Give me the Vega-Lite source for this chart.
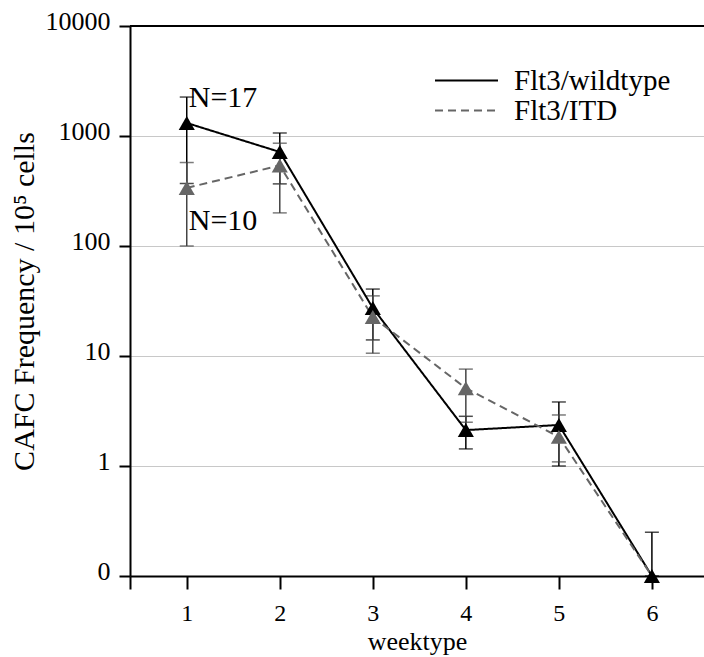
{
  "$schema": "https://vega.github.io/schema/vega-lite/v6.json",
  "width": 574,
  "height": 550,
  "autosize": {"type": "none"},
  "padding": {"left": 130, "top": 26, "right": 0, "bottom": 81},
  "config": {
    "font": "Liberation Serif",
    "view": {"stroke": null},
    "axis": {
      "labelFont": "Liberation Serif",
      "titleFont": "Liberation Serif",
      "labelFontSize": 24,
      "titleFontSize": 26,
      "titleFontWeight": "normal",
      "labelColor": "black",
      "titleColor": "black",
      "domainColor": "black",
      "tickColor": "black",
      "domainWidth": 2,
      "tickWidth": 2,
      "labelFlush": false
    },
    "legend": {
      "labelFont": "Liberation Serif",
      "labelFontSize": 29,
      "labelColor": "black",
      "labelLimit": 0
    }
  },
  "datasets": {
    "series": [
      {"group": "Flt3/wildtype", "week": 1, "mean": 1313, "lo": 370, "hi": 2260},
      {"group": "Flt3/wildtype", "week": 2, "mean": 716, "lo": 367, "hi": 1065},
      {"group": "Flt3/wildtype", "week": 3, "mean": 27.3, "lo": 14.0, "hi": 40.6},
      {"group": "Flt3/wildtype", "week": 4, "mean": 2.12, "lo": 1.43, "hi": 2.83},
      {"group": "Flt3/wildtype", "week": 5, "mean": 2.36, "lo": 1.0, "hi": 3.82},
      {"group": "Flt3/wildtype", "week": 6, "mean": 0.1, "lo": 0.1, "hi": 0.25},
      {"group": "Flt3/ITD", "week": 1, "mean": 337, "lo": 100, "hi": 574},
      {"group": "Flt3/ITD", "week": 2, "mean": 540, "lo": 200, "hi": 860},
      {"group": "Flt3/ITD", "week": 3, "mean": 22.6, "lo": 10.6, "hi": 35.2},
      {"group": "Flt3/ITD", "week": 4, "mean": 5.1, "lo": 2.5, "hi": 7.6},
      {"group": "Flt3/ITD", "week": 5, "mean": 1.84, "lo": 1.09, "hi": 2.91},
      {"group": "Flt3/ITD", "week": 6, "mean": 0.1, "lo": 0.1, "hi": 0.1}
    ],
    "notes": [
      {"week": 1, "y": 2200, "label": "N=17"},
      {"week": 1, "y": 170, "label": "N=10"}
    ],
    "top": [{"y": 10000}]
  },
  "layer": [
    {
      "data": {"name": "series"},
      "transform": [{"filter": "datum.group == 'Flt3/wildtype'"}],
      "mark": {"type": "rule", "strokeWidth": 1.5, "color": "black"},
      "encoding": {
        "x": {
          "field": "week",
          "type": "quantitative",
          "scale": {"domain": [0.39, 6.56], "nice": false, "zero": false},
          "axis": {
            "values": [0.39, 1, 2, 3, 4, 5, 6],
            "labelExpr": "datum.value < 0.9 ? '' : format(datum.value, 'd')",
            "tickSize": 13,
            "labelPadding": 12,
            "title": "weektype",
            "titlePadding": 3,
            "grid": false
          }
        },
        "y": {
          "field": "lo",
          "type": "quantitative",
          "scale": {"type": "log", "domain": [0.1, 10000], "nice": false},
          "axis": {
            "values": [0.1, 1, 10, 100, 1000, 10000],
            "labelExpr": "datum.value < 0.5 ? '0' : format(datum.value, 'd')",
            "grid": true,
            "gridColor": "#c8c8c8",
            "gridWidth": 1,
            "tickSize": 11,
            "labelFontSize": 26,
            "labelPadding": 9,
            "labelOffset": -5,
            "title": "CAFC Frequency / 10⁵ cells",
            "titleFontSize": 30,
            "titlePadding": 6
          }
        },
        "y2": {"field": "hi"}
      }
    },
    {
      "data": {"name": "series"},
      "transform": [{"filter": "datum.group == 'Flt3/wildtype'"}],
      "mark": {"type": "tick", "orient": "horizontal", "size": 14, "thickness": 1.5, "color": "black"},
      "encoding": {
        "x": {"field": "week", "type": "quantitative"},
        "y": {"field": "lo", "type": "quantitative"}
      }
    },
    {
      "data": {"name": "series"},
      "transform": [{"filter": "datum.group == 'Flt3/wildtype'"}],
      "mark": {"type": "tick", "orient": "horizontal", "size": 14, "thickness": 1.5, "color": "black"},
      "encoding": {
        "x": {"field": "week", "type": "quantitative"},
        "y": {"field": "hi", "type": "quantitative"}
      }
    },
    {
      "data": {"name": "series"},
      "transform": [{"filter": "datum.group == 'Flt3/ITD' && datum.week < 6"}],
      "mark": {"type": "rule", "strokeWidth": 1.5, "color": "#444444"},
      "encoding": {
        "x": {"field": "week", "type": "quantitative"},
        "y": {"field": "lo", "type": "quantitative"},
        "y2": {"field": "hi"}
      }
    },
    {
      "data": {"name": "series"},
      "transform": [{"filter": "datum.group == 'Flt3/ITD' && datum.week < 6"}],
      "mark": {"type": "tick", "orient": "horizontal", "size": 14, "thickness": 1.5, "color": "#444444"},
      "encoding": {
        "x": {"field": "week", "type": "quantitative"},
        "y": {"field": "lo", "type": "quantitative"}
      }
    },
    {
      "data": {"name": "series"},
      "transform": [{"filter": "datum.group == 'Flt3/ITD' && datum.week < 6"}],
      "mark": {"type": "tick", "orient": "horizontal", "size": 14, "thickness": 1.5, "color": "#444444"},
      "encoding": {
        "x": {"field": "week", "type": "quantitative"},
        "y": {"field": "hi", "type": "quantitative"}
      }
    },
    {
      "data": {"name": "series"},
      "mark": {"type": "line", "strokeWidth": 2},
      "encoding": {
        "x": {"field": "week", "type": "quantitative"},
        "y": {"field": "mean", "type": "quantitative"},
        "color": {
          "field": "group",
          "type": "nominal",
          "scale": {"domain": ["Flt3/wildtype", "Flt3/ITD"], "range": ["black", "#666666"]},
          "legend": {
            "title": null,
            "orient": "none",
            "legendX": 322,
            "legendY": 40,
            "symbolType": "M-3.5,0H3.5",
            "symbolSize": 324,
            "symbolStrokeWidth": 2,
            "labelOffset": 33,
            "rowPadding": 0,
            "padding": 0
          }
        },
        "strokeDash": {
          "field": "group",
          "type": "nominal",
          "scale": {"domain": ["Flt3/wildtype", "Flt3/ITD"], "range": [[1, 0], [8, 5]]},
          "legend": {
            "title": null,
            "orient": "none",
            "legendX": 322,
            "legendY": 40,
            "symbolType": "M-3.5,0H3.5",
            "symbolSize": 324,
            "symbolStrokeWidth": 2,
            "labelOffset": 33,
            "rowPadding": 0,
            "padding": 0
          }
        }
      }
    },
    {
      "data": {"name": "series"},
      "transform": [{"filter": "datum.group == 'Flt3/wildtype'"}],
      "mark": {"type": "point", "shape": "triangle-up", "filled": true, "size": 260, "color": "black", "opacity": 1},
      "encoding": {
        "x": {"field": "week", "type": "quantitative"},
        "y": {"field": "mean", "type": "quantitative"}
      }
    },
    {
      "data": {"name": "series"},
      "transform": [{"filter": "datum.group == 'Flt3/ITD' && datum.week < 6"}],
      "mark": {"type": "point", "shape": "triangle-up", "filled": true, "size": 260, "color": "#666666", "opacity": 1},
      "encoding": {
        "x": {"field": "week", "type": "quantitative"},
        "y": {"field": "mean", "type": "quantitative"}
      }
    },
    {
      "data": {"name": "notes"},
      "mark": {"type": "text", "align": "left", "baseline": "middle", "dx": 2, "fontSize": 30, "font": "Liberation Serif", "color": "black"},
      "encoding": {
        "x": {"field": "week", "type": "quantitative"},
        "y": {"field": "y", "type": "quantitative"},
        "text": {"field": "label"}
      }
    },
    {
      "data": {"name": "top"},
      "mark": {"type": "rule", "color": "black", "strokeWidth": 2},
      "encoding": {
        "y": {"field": "y", "type": "quantitative"}
      }
    }
  ]
}
